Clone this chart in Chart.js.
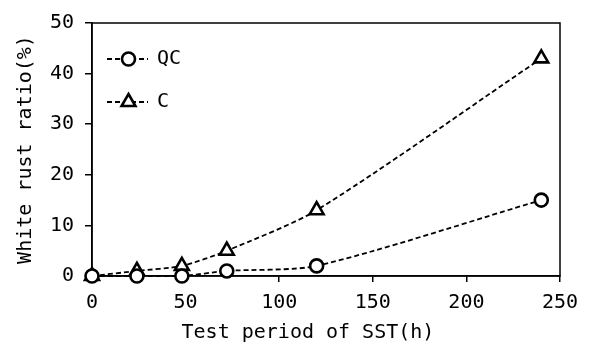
<!DOCTYPE html>
<html>
<head>
<meta charset="utf-8">
<script src="https://cdn.jsdelivr.net/npm/chart.js@4.4.1/dist/chart.umd.min.js"></script>
<style>
  html, body { margin: 0; padding: 0; background: #fff; }
  #wrap { width: 594px; height: 345px; position: relative; }
</style>
</head>
<body>
<div id="wrap"><canvas id="c" width="594" height="345"></canvas></div>
<script>
const hours = [0, 24, 48, 72, 120, 240];
const qcValues = [0, 0, 0, 1, 2, 15];
const cValues = [0, 1, 2, 5, 13, 43];
const seriesNames = ['QC', 'C'];
const xTicks = [0, 50, 100, 150, 200, 250];
const yTicks = [0, 10, 20, 30, 40, 50];
const xTitle = 'Test period of SST(h)';
const yTitle = 'White rust ratio(%)';

const FONT = "'DejaVu Sans Mono', 'Liberation Mono', monospace";

function toPoints(xs, ys) { return xs.map((x, i) => ({ x: x, y: ys[i] })); }

const legendInside = {
  id: 'legendInside',
  afterDatasetsDraw(chart) {
    const ctx = chart.ctx;
    const a = chart.chartArea;
    ctx.save();
    chart.data.datasets.forEach((ds, i) => {
      const y = a.top + 36 + i * 43;
      const x0 = a.left + 15, x1 = a.left + 56;
      ctx.strokeStyle = '#000';
      ctx.lineWidth = 1.8;
      ctx.setLineDash([5, 3]);
      ctx.beginPath(); ctx.moveTo(x0, y); ctx.lineTo(x1, y); ctx.stroke();
      ctx.setLineDash([]);
      ctx.fillStyle = '#fff';
      ctx.lineWidth = ds.pointBorderWidth;
      Chart.helpers.drawPoint(ctx, { pointStyle: ds.pointStyle, radius: ds.pointRadius, borderWidth: ds.pointBorderWidth, rotation: 0 }, (x0 + x1) / 2 + 1, y);
      ctx.fillStyle = '#000';
      ctx.font = "20px " + FONT;
      ctx.textBaseline = 'middle';
      ctx.textAlign = 'left';
      ctx.fillText(ds.label, a.left + 65, y);
    });
    ctx.restore();
  }
};

const frame = {
  id: 'frame',
  beforeDatasetsDraw(chart) {
    const a = chart.chartArea, ctx = chart.ctx;
    ctx.save();
    ctx.strokeStyle = '#000';
    ctx.lineWidth = 1.5;
    ctx.strokeRect(a.left, a.top, a.right - a.left, a.bottom - a.top);
    ctx.restore();
  }
};

const common = {
  showLine: true,
  borderColor: '#000',
  borderWidth: 1.8,
  borderDash: [5, 3],
  pointBackgroundColor: '#fff',
  pointBorderColor: '#000',
  pointBorderWidth: 2.6,
  pointHoverRadius: 7,
  tension: 0.25,
  clip: false,
  fill: false
};

new Chart(document.getElementById('c'), {
  type: 'scatter',
  data: {
    datasets: [
      Object.assign({}, common, { label: seriesNames[0], data: toPoints(hours, qcValues), pointStyle: 'circle', pointRadius: 6.5 }),
      Object.assign({}, common, { label: seriesNames[1], data: toPoints(hours, cValues), pointStyle: 'triangle', pointRadius: 8 })
    ]
  },
  options: {
    responsive: false,
    animation: false,
    devicePixelRatio: 1,
    layout: { padding: { top: 21, right: 34, left: 14, bottom: 0 } },
    plugins: { legend: { display: false }, tooltip: { enabled: false } },
    scales: {
      x: {
        type: 'linear', min: 0, max: 250,
        afterBuildTicks(s) { s.ticks = xTicks.map(v => ({ value: v })); },
        afterFit(s) { s.height = 69; },
        grid: { drawOnChartArea: false, tickLength: 6, color: '#000', lineWidth: 1.5 },
        border: { color: '#000', width: 1.5 },
        ticks: { color: '#000', font: { family: FONT, size: 20 }, padding: 9, maxRotation: 0 },
        title: { display: true, text: xTitle + '   ', color: '#000', font: { family: FONT, size: 20 }, padding: { top: 0, bottom: 0 } }
      },
      y: {
        type: 'linear', min: 0, max: 50,
        afterBuildTicks(s) { s.ticks = yTicks.map(v => ({ value: v })); },
        afterFit(s) { s.width = 78; },
        grid: { drawOnChartArea: false, tickLength: 7, color: '#000', lineWidth: 1.5 },
        border: { color: '#000', width: 1.5 },
        ticks: { color: '#000', font: { family: FONT, size: 20 }, padding: 11 },
        title: { display: true, text: yTitle, color: '#000', font: { family: FONT, size: 20 }, padding: { top: 0, bottom: 4 } }
      }
    }
  },
  plugins: [frame, legendInside]
});
</script>
</body>
</html>
